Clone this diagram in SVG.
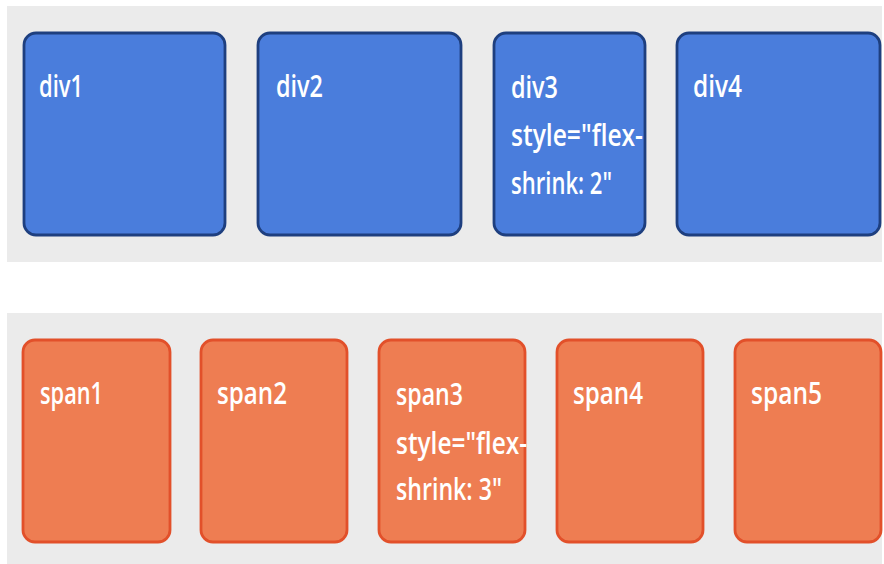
<svg xmlns="http://www.w3.org/2000/svg" width="884" height="564" viewBox="0 0 884 564">
<style>
.band{fill:#ebebeb}
.div{fill:#4a7ddc;stroke:#1e3f7f;stroke-width:2.8}
.span{fill:#ee7d52;stroke:#e2502a;stroke-width:2.8}
.t{font-family:"Open Sans","Liberation Sans",Arial,sans-serif;font-size:30px;font-weight:600;fill:#ffffff}
</style>
<rect width="884" height="564" fill="#ffffff"/>
<rect class="band" x="7" y="6" width="875" height="256"/>
<rect class="band" x="7" y="313" width="875" height="251"/>
<g id="connectors"/>
<g id="div1">
<rect class="div" x="24" y="33" width="201" height="202" rx="12"/>
<text class="t" x="39" y="97" textLength="44" lengthAdjust="spacingAndGlyphs">div1</text>
</g>
<g id="div2">
<rect class="div" x="258" y="33" width="203" height="202" rx="12"/>
<text class="t" x="276" y="97" textLength="47" lengthAdjust="spacingAndGlyphs">div2</text>
</g>
<g id="div3">
<rect class="div" x="494" y="33" width="151" height="202" rx="12"/>
<text class="t" x="511" y="98" textLength="47" lengthAdjust="spacingAndGlyphs">div3</text>
<text class="t" x="511" y="146" textLength="132" lengthAdjust="spacingAndGlyphs">style="flex-</text>
<text class="t" x="511" y="194" textLength="101" lengthAdjust="spacingAndGlyphs">shrink: 2"</text>
</g>
<g id="div4">
<rect class="div" x="677" y="33" width="203" height="202" rx="12"/>
<text class="t" x="693" y="97" textLength="49" lengthAdjust="spacingAndGlyphs">div4</text>
</g>
<g id="span1">
<rect class="span" x="23" y="340" width="147" height="202" rx="12"/>
<text class="t" x="40" y="404" textLength="63" lengthAdjust="spacingAndGlyphs">span1</text>
</g>
<g id="span2">
<rect class="span" x="201" y="340" width="146" height="202" rx="12"/>
<text class="t" x="217" y="404" textLength="70" lengthAdjust="spacingAndGlyphs">span2</text>
</g>
<g id="span3">
<rect class="span" x="379" y="340" width="146" height="202" rx="12"/>
<text class="t" x="396" y="405" textLength="67" lengthAdjust="spacingAndGlyphs">span3</text>
<text class="t" x="396" y="454" textLength="131" lengthAdjust="spacingAndGlyphs">style="flex-</text>
<text class="t" x="396" y="500" textLength="106" lengthAdjust="spacingAndGlyphs">shrink: 3"</text>
</g>
<g id="span4">
<rect class="span" x="557" y="340" width="146" height="202" rx="12"/>
<text class="t" x="573" y="404" textLength="70" lengthAdjust="spacingAndGlyphs">span4</text>
</g>
<g id="span5">
<rect class="span" x="735" y="340" width="146" height="202" rx="12"/>
<text class="t" x="751" y="404" textLength="71" lengthAdjust="spacingAndGlyphs">span5</text>
</g>
</svg>
